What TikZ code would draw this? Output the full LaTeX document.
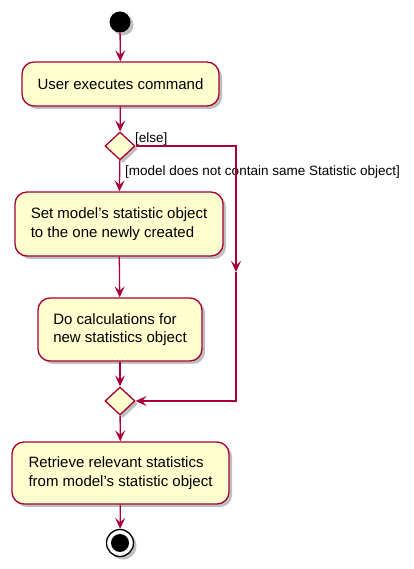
\documentclass[tikz,border=0pt]{standalone}
\usepackage{fontspec}
\setmainfont{Liberation Sans}
\usetikzlibrary{arrows.meta,shapes.geometric,shadows}
\definecolor{umlred}{HTML}{A80036}
\definecolor{umlfill}{HTML}{FEFECE}
\tikzset{
  umlshadow/.style={drop shadow={shadow xshift=3pt,shadow yshift=-3pt,opacity=0.25,fill=black}},
  action/.style={draw=umlred,fill=umlfill,line width=1.3pt,rounded corners=12pt,
    align=left,inner sep=0pt,font=\fontsize{15}{18.5}\selectfont,umlshadow},
  branch/.style={diamond,draw=umlred,fill=umlfill,line width=1.3pt,inner sep=0pt,
    minimum width=30pt,minimum height=28pt,umlshadow},
  flow/.style={draw=umlred,line width=1.3pt,-{Stealth[length=11pt,width=10pt,inset=4.5pt]}},
  guard/.style={inner sep=0pt,anchor=west,font=\fontsize{13.5}{16}\selectfont}
}
\begin{document}
\begin{tikzpicture}[x=1pt,y=1pt]
\useasboundingbox (0,0) rectangle (413,569);

	\node[circle,fill=black,minimum size=21pt,inner sep=0pt,umlshadow] (start) at (120,547) {};
	\node[action,minimum width=197pt,minimum height=44pt] (execute) at (120.5,485) {User executes command};
	\node[branch] (check) at (120,423) {};
	\node[action,minimum width=208pt,minimum height=64pt] (setobj) at (119,345) {Set model's statistic object\\to the one newly created};
	\node[action,minimum width=164pt,minimum height=63pt] (calc) at (120,239.5) {Do calculations for\\new statistics object};
	\node[branch] (merge) at (120,168) {};
	\node[action,minimum width=217pt,minimum height=62pt] (retrieve) at (120.5,96) {Retrieve relevant statistics\\from model's statistic object};
	\node[circle,draw=black,fill=white,line width=1.3pt,minimum size=27pt,inner sep=0pt,umlshadow] (stop) at (120,26) {};
	\fill[black] (stop.center) circle (9pt);

	% guards
	\node[guard] (elselbl) at (135,430) {[else]};
	\node[guard] (newlbl) at (125,397) {[model does not contain same Statistic object]};

	% flows
	\draw[flow] (start) -- (execute);
	\draw[flow] (execute) -- (check);
	\draw[flow] (check) -- (setobj);
	\draw[flow] (setobj) -- (calc);
	\draw[flow] (calc) -- (merge);
	\draw[flow] (merge) -- (retrieve);
	\draw[flow] (retrieve) -- (stop);
	\coordinate (elsemid) at (236,297);
	\draw[flow] (check.east) -| (elsemid);
	\draw[flow] (elsemid) |- (merge.east);

\end{tikzpicture}
\end{document}
